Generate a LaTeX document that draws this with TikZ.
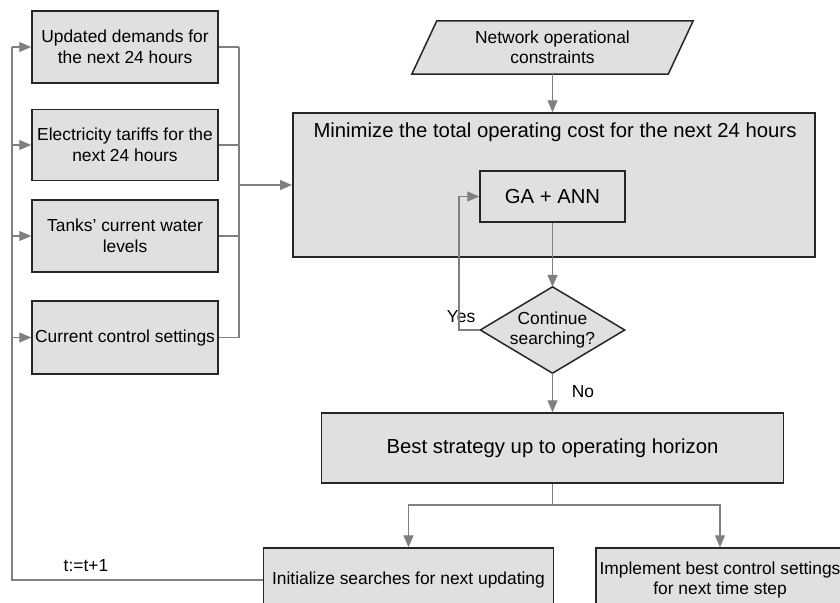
\documentclass[tikz,border=0pt]{standalone}
\usepackage{fontspec}
\setmainfont{Liberation Sans}
\usetikzlibrary{arrows.meta,backgrounds}
\definecolor{boxfill}{HTML}{E0E0E0}
\definecolor{boxline}{HTML}{262626}
\definecolor{connc}{HTML}{808080}
\newcommand\txtA{\fontsize{17.4}{20.5}\selectfont}
\newcommand\txtB{\fontsize{20.3}{24}\selectfont}
\begin{document}
\begin{tikzpicture}[x=1pt,y=-1pt,
  box/.style={draw=boxline, fill=boxfill, line width=1.5pt, inner sep=0pt, align=center, font=\txtA},
  shapeline/.style={draw=boxline, fill=boxfill, line width=1.5pt},
  plain/.style={draw=connc, line width=1.2pt},
  conn/.style={draw=connc, line width=1.2pt, -{Triangle[length=12pt,width=10pt,fill=connc]}},
  lbl/.style={font=\txtA, inner sep=0pt}]
\useasboundingbox (0,0) rectangle (840,602);
\clip (0,0) rectangle (840,602);
\begin{scope}[on background layer]
  \fill[white] (0,0) rectangle (840,602);
\end{scope}

% left input boxes
\node[box, minimum width=186, minimum height=72] (u1) at (125,47) {Updated demands for\\the next 24 hours};
\node[box, minimum width=186, minimum height=71] (u2) at (125,145) {Electricity tariffs for the\\next 24 hours};
\node[box, minimum width=186, minimum height=72] (u3) at (125,236) {Tanks’ current water\\levels};
\node[box, minimum width=186, minimum height=73] (u4) at (125,337.5) {Current control settings};

% network constraints (parallelogram)
\node[lbl, align=center, minimum width=256, minimum height=53] (net) at (552.5,47.5) {Network operational\\constraints};
\begin{scope}[on background layer]
  \filldraw[shapeline] ([xshift=12.5pt]net.north west) -- ([xshift=12.5pt]net.north east)
    -- ([xshift=-12.5pt]net.south east) -- ([xshift=-12.5pt]net.south west) -- cycle;
\end{scope}

% main optimisation box
\node[box, minimum width=522, minimum height=144] (min) at (553.75,185) {};
\node[lbl, font=\txtB, anchor=base] (mintitle) at (555,137) {Minimize the total operating cost for the next 24 hours};
\node[box, font=\txtB, minimum width=145, minimum height=51] (ga) at (552.5,196.5) {GA + ANN};

% decision
\node[lbl, align=center, minimum width=144, minimum height=86] (dec) at (552.5,330) {Continue\\searching?};
\begin{scope}[on background layer]
  \filldraw[shapeline] (dec.north) -- (dec.east) -- (dec.south) -- (dec.west) -- cycle;
\end{scope}

% best strategy and outputs
\node[box, font=\txtB, minimum width=462, minimum height=70] (best) at (552.5,448) {Best strategy up to operating horizon};
\node[box, minimum width=290, minimum height=64] (init) at (408.5,580) {Initialize searches for next updating};
\node[box, minimum width=248, minimum height=64] (impl) at (720,580) {Implement best control settings\\for next time step};

% labels
\node[lbl] (yes) at (461,317) {Yes};
\node[lbl] (no) at (583,392) {No};
\node[lbl] (tt) at (86,566) {t:=t+1};

% helper coordinates
\coordinate (bm) at (239,185);
\coordinate (fl) at (12,47);
\coordinate (yl) at (459,196.5);
\coordinate (br) at (552.5,505);

% input bus to main box
\foreach \n in {u1,u2,u3,u4} \draw[plain] (\n.east) -- (\n.east -| bm);
\draw[plain] (u1.east -| bm) -- (u4.east -| bm);
\draw[conn] (bm) -- (min.west);

% constraints to main box
\draw[conn] (net.south) -- (net.south |- min.north);

% GA to decision, Yes loop
\draw[conn] (ga.south) -- (dec.north);
\draw[conn] (dec.west) -| (yl) -- (ga.west);

% No to best strategy
\draw[conn] (dec.south) -- (best.north);

% branch to outputs
\draw[plain] (best.south) -- (br);
\draw[conn] (br) -| (init.north);
\draw[conn] (br) -| (impl.north);

% feedback loop
\draw[plain] (init.west) -| (fl);
\foreach \n in {u1,u2,u3,u4} \draw[conn] (\n.west -| fl) -- (\n.west);
\end{tikzpicture}
\end{document}
